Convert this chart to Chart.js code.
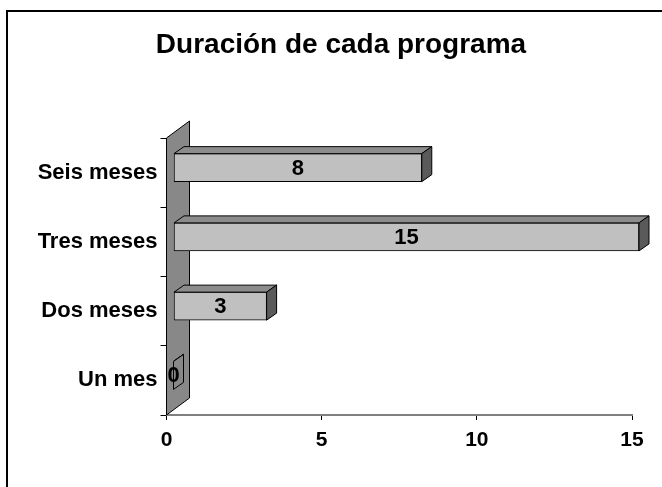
<!DOCTYPE html>
<html>
<head>
<meta charset="utf-8">
<script src="https://cdn.jsdelivr.net/npm/chart.js@4.4.1/dist/chart.umd.min.js"></script>
<style>
  html, body { margin: 0; padding: 0; background: #fff; }
  #wrap { width: 662px; height: 487px; }
</style>
</head>
<body>
<div id="wrap"><canvas id="duracion"></canvas></div>
<script>
var titulo = "Duración de cada programa";
var categorias = ["Un mes", "Dos meses", "Tres meses", "Seis meses"];
var programas = [0, 3, 15, 8];
var escalaX = { min: 0, max: 15, paso: 5 };

var FUENTE = "'Liberation Sans', Arial, sans-serif";
// fake depth: front faces sit a bit inside the wall, bars have their own depth
var PARED = { dx: 23, dy: 17 };
var FRENTE = { dx: 7, dy: 5 };
var FONDO = { dx: 10, dy: 7 };

var efecto3d = {
  id: "efecto3d",
  beforeDraw: function (chart) {
    var ctx = chart.ctx;
    ctx.save();
    ctx.fillStyle = "#ffffff";
    ctx.fillRect(0, 0, chart.width, chart.height);
    ctx.strokeStyle = "#000000";
    ctx.lineWidth = 2;
    ctx.strokeRect(7, 11, chart.width + 20, chart.height + 20);
    // title sits a little right of the canvas centre
    ctx.fillStyle = "#000000";
    ctx.font = "bold 28px " + FUENTE;
    ctx.textAlign = "center";
    ctx.textBaseline = "alphabetic";
    ctx.fillText(titulo, 341, 53);
    ctx.restore();
  },
  beforeDatasetsDraw: function (chart) {
    var a = chart.chartArea, ctx = chart.ctx;
    // side wall behind the category axis
    ctx.save();
    ctx.beginPath();
    ctx.moveTo(a.left, a.top);
    ctx.lineTo(a.left + PARED.dx, a.top - PARED.dy);
    ctx.lineTo(a.left + PARED.dx, a.bottom - PARED.dy);
    ctx.lineTo(a.left, a.bottom);
    ctx.closePath();
    ctx.fillStyle = "#888888";
    ctx.fill();
    ctx.strokeStyle = "#000000";
    ctx.lineWidth = 1;
    ctx.stroke();
    ctx.restore();
    // shift the bar fronts into the depth
    ctx.save();
    ctx.translate(FRENTE.dx, -FRENTE.dy);
  },
  afterDatasetsDraw: function (chart) {
    var ctx = chart.ctx;
    ctx.restore();
    var meta = chart.getDatasetMeta(0);
    ctx.save();
    ctx.lineWidth = 1;
    ctx.strokeStyle = "#000000";
    meta.data.forEach(function (bar, i) {
      var x0 = bar.base + FRENTE.dx;
      var x1 = bar.x + FRENTE.dx;
      var y0 = bar.y - bar.height / 2 - FRENTE.dy;
      var y1 = bar.y + bar.height / 2 - FRENTE.dy;
      // top face
      ctx.beginPath();
      ctx.moveTo(x0, y0);
      ctx.lineTo(x0 + FONDO.dx, y0 - FONDO.dy);
      ctx.lineTo(x1 + FONDO.dx, y0 - FONDO.dy);
      ctx.lineTo(x1, y0);
      ctx.closePath();
      ctx.fillStyle = "#8c8c8c";
      ctx.fill();
      ctx.stroke();
      // end face
      ctx.beginPath();
      ctx.moveTo(x1, y0);
      ctx.lineTo(x1 + FONDO.dx, y0 - FONDO.dy);
      ctx.lineTo(x1 + FONDO.dx, y1 - FONDO.dy);
      ctx.lineTo(x1, y1);
      ctx.closePath();
      ctx.fillStyle = programas[i] === 0 ? "#888888" : "#5a5a5a";
      ctx.fill();
      ctx.stroke();
      // value label
      ctx.fillStyle = "#000000";
      ctx.font = "bold 22px " + FUENTE;
      ctx.textAlign = "center";
      ctx.textBaseline = "middle";
      ctx.fillText(String(programas[i]), (x0 + x1) / 2, (y0 + y1) / 2 + 1);
    });
    ctx.restore();
  }
};

new Chart(document.getElementById("duracion"), {
  type: "bar",
  data: {
    labels: categorias,
    datasets: [
      {
        data: programas,
        backgroundColor: "#c0c0c0",
        borderColor: "#000000",
        borderWidth: 1,
        borderSkipped: false,
        barThickness: 28
      }
    ]
  },
  plugins: [efecto3d],
  options: {
    indexAxis: "y",
    responsive: true,
    maintainAspectRatio: false,
    animation: false,
    layout: { padding: { top: 138, left: 4, right: 30, bottom: 32 } },
    plugins: {
      legend: { display: false },
      tooltip: { enabled: false },
      title: { display: false }
    },
    scales: {
      x: {
        min: escalaX.min,
        max: escalaX.max,
        ticks: {
          stepSize: escalaX.paso,
          color: "#000000",
          padding: 8,
          font: { family: FUENTE, size: 21, weight: "bold" }
        },
        grid: { drawOnChartArea: false, tickLength: 5, color: "#000000" },
        border: { display: true, color: "#808080", width: 2 },
        afterFit: function (s) { s.height = 40; }
      },
      y: {
        reverse: true,
        ticks: {
          color: "#000000",
          padding: 3,
          font: { family: FUENTE, size: 22, weight: "bold" }
        },
        grid: { drawOnChartArea: false, tickLength: 6, color: "#000000" },
        border: { display: false },
        afterFit: function (s) { s.width = 162.5; }
      }
    }
  }
});
</script>
</body>
</html>
